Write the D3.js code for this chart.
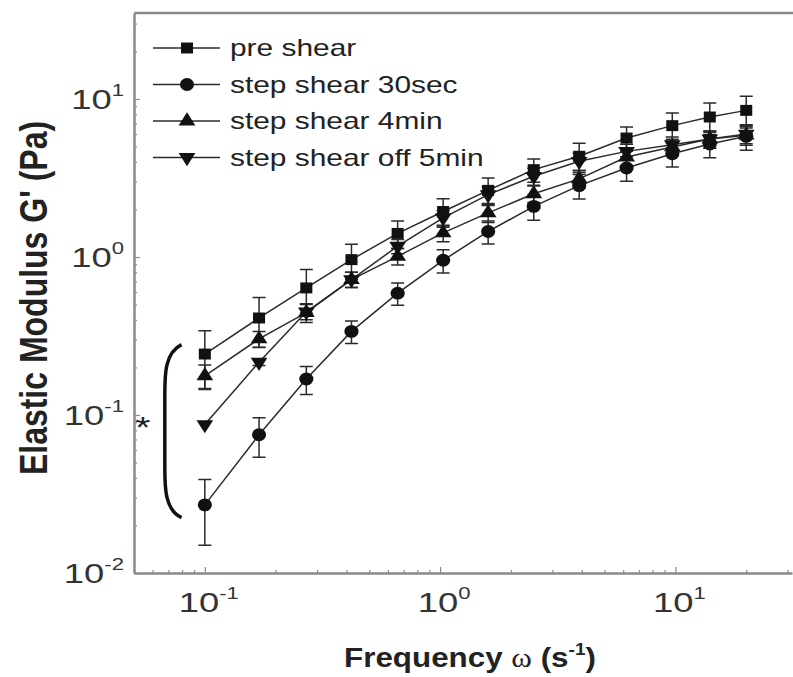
<!DOCTYPE html>
<html>
<head>
<meta charset="utf-8">
<script src="https://cdn.jsdelivr.net/npm/d3@7"></script>
<style>
  body { margin: 0; background: #fff; }
  svg { display: block; }
  text { font-family: "Liberation Sans", Arial, sans-serif; }
</style>
</head>
<body>
<svg id="chart" width="793" height="677"></svg>
<script>
// frequency (1/s)
var freq = [0.1, 0.17, 0.27, 0.42, 0.66, 1.03, 1.6, 2.5, 3.9, 6.2, 9.7, 14, 20]

// G' values (Pa) and error (+/-)
var preShear     = [0.243, 0.411, 0.637, 0.962, 1.41, 1.94, 2.64, 3.57, 4.34, 5.66, 6.78, 7.69, 8.47]
var preShearErr  = [0.098, 0.144, 0.195, 0.24, 0.28, 0.40, 0.52, 0.60, 0.91, 0.99, 1.37, 1.75, 1.93]
var step30s      = [0.027, 0.075, 0.169, 0.338, 0.59, 0.953, 1.45, 2.09, 2.83, 3.66, 4.5, 5.19, 5.8]
var step30sErr   = [0.012, 0.021, 0.034, 0.055, 0.095, 0.16, 0.24, 0.38, 0.50, 0.65, 0.79, 0.95, 1.07]
var step4min     = [0.177, 0.303, 0.445, 0.72, 1.01, 1.42, 1.90, 2.51, 3.12, 4.29, 4.97, 5.58, 5.9]
var step4minErr  = [0.03, 0.035, 0.06, 0.08, 0.12, 0.17, 0.25, 0.3, 0.4, 0.5, 0.6, 0.7, 0.8]
var off5min      = [0.087, 0.216, 0.45, 0.72, 1.17, 1.77, 2.48, 3.24, 4.03, 4.66, 5.14, 5.58, 6.0]
var off5minErr   = [0, 0.01, 0.05, 0.08, 0.12, 0.2, 0.3, 0.4, 0.5, 0.5, 0.6, 0.7, 0.8]

var seriesNames = ['pre shear', 'step shear 30sec', 'step shear 4min', 'step shear off 5min']

var xTickLabels = [[0.1,'-1'], [1,'0'], [10,'1']]
var yTickLabels = [[0.01,'-2'], [0.1,'-1'], [1,'0'], [10,'1']]

var series = [
	{name: seriesNames[0], v: preShear, e: preShearErr, sym: 'square'},
	{name: seriesNames[1], v: step30s,  e: step30sErr,  sym: 'circle'},
	{name: seriesNames[2], v: step4min, e: step4minErr, sym: 'up'},
	{name: seriesNames[3], v: off5min,  e: off5minErr,  sym: 'down'}
]

var svg = d3.select('#chart')
var SX = 1.3   // the picture is stretched sideways, text too

var pL = 134, pR = 792, pT = 13, pB = 573
var x = d3.scaleLog().domain([0.05, 31.3]).range([pL, pR])
var y = d3.scaleLog().domain([0.01, 35]).range([pB, pT])

var axisCol = '#8a8a8a'

// frame top
svg.append('line').attr('x1',pL).attr('x2',793).attr('y1',pT).attr('y2',pT)
	.style('stroke',axisCol).style('stroke-width',2.5)

function minorTicks(lo, hi){
	var out = []
	for (var d=-3; d<3; d++) for (var m=2; m<10; m++) {
		var t = m*Math.pow(10,d)
		if (t>=lo*0.999 && t<=hi*1.001) out.push(t)
	}
	return out
}

var gx = svg.append('g').attr('transform',`translate(0,${pB})`)
gx.call(d3.axisBottom(x).tickValues(minorTicks(0.05,31.3)).tickSize(-3).tickFormat('').tickSizeOuter(0))
gx.append('g').call(d3.axisBottom(x).tickValues([0.1,1,10]).tickSize(-6).tickFormat('').tickSizeOuter(0))
	.select('.domain').remove()

var gy = svg.append('g').attr('transform',`translate(${pL},0)`)
gy.call(d3.axisLeft(y).tickValues(minorTicks(0.01,35)).tickSize(-3).tickFormat('').tickSizeOuter(0))
gy.append('g').call(d3.axisLeft(y).tickValues([0.01,0.1,1,10]).tickSize(-6).tickFormat('').tickSizeOuter(0))
	.select('.domain').remove()

svg.selectAll('.domain').style('stroke',axisCol).style('stroke-width',2.5)
svg.selectAll('.tick line').style('stroke',axisCol).style('stroke-width',1.2)

function powLabel(px, py, exp, anchor){
	var t = svg.append('text')
		.attr('transform',`translate(${px},${py}) scale(${SX},1)`)
		.attr('text-anchor',anchor)
		.style('font-size','28px').style('fill','#333')
	t.append('tspan').text('10')
	t.append('tspan').text(exp).attr('dy',-13).style('font-size','17px')
}

xTickLabels.forEach(d=>powLabel(x(d[0]) + 4, 612, d[1], 'middle'))
yTickLabels.forEach(d=>powLabel(pL - 10, y(d[0]) + 10, d[1], 'end'))

// axis titles
svg.append('text')
	.attr('transform',`translate(47,298) scale(1.2,1) rotate(-90)`)
	.attr('text-anchor','middle')
	.style('font-size','32px').style('font-weight','bold').style('fill','#222')
	.text("Elastic Modulus G' (Pa)")

var xt = svg.append('text')
	.attr('transform',`translate(470,667) scale(1.12,1)`)
	.attr('text-anchor','middle')
	.style('font-size','28px').style('font-weight','bold').style('fill','#222')
xt.append('tspan').text('Frequency ')
xt.append('tspan').text('ω').style('font-family','"Liberation Serif", serif').style('font-weight','normal')
xt.append('tspan').text(' (s')
xt.append('tspan').text('-1').attr('dy',-12).style('font-size','17px')
xt.append('tspan').text(')').attr('dy',12)

// data
var lineCol = '#2b2b2b'
var line = d3.line().x((d,i)=>x(freq[i])).y(d=>y(d))

function symPath(kind){
	if (kind=='square') return d3.symbol(d3.symbolSquare, 120)()
	if (kind=='circle') return d3.symbol(d3.symbolCircle, 130)()
	return d3.symbol(d3.symbolTriangle, 100)()
}

var gLines = svg.append('g'), gErr = svg.append('g'), gMarks = svg.append('g')

series.forEach(s=>{
	gLines.append('path').datum(s.v).attr('d',line)
		.style('fill','none').style('stroke',lineCol).style('stroke-width',1.5)

	s.v.forEach((v,i)=>{
		if (!s.e[i]) return
		var cx = x(freq[i]), y1 = y(v + s.e[i]), y2 = y(Math.max(v - s.e[i], 0.005))
		gErr.append('path')
			.attr('d',`M${cx},${y1}V${y2}M${cx-6.5},${y1}H${cx+6.5}M${cx-6.5},${y2}H${cx+6.5}`)
			.style('fill','none').style('stroke',lineCol).style('stroke-width',1.5)
	})

	gMarks.selectAll(null).data(s.v).enter().append('path')
		.attr('d',symPath(s.sym))
		.attr('transform',(d,i)=>`translate(${x(freq[i])},${y(d)}) scale(1.1,1)` + (s.sym=='down'?' rotate(180)':''))
		.style('fill','#111')
})

// legend
var legend = svg.append('g')
series.forEach((s,i)=>{
	var ly = 48 + i*36.5
	legend.append('line').attr('x1',153).attr('x2',220).attr('y1',ly).attr('y2',ly)
		.style('stroke',lineCol).style('stroke-width',1.5)
	legend.append('path').attr('d',symPath(s.sym))
		.attr('transform',`translate(187,${ly}) scale(1.1,1)` + (s.sym=='down'?' rotate(180)':''))
		.style('fill','#111')
	legend.append('text')
		.attr('transform',`translate(230,${ly+8}) scale(${SX},1)`)
		.style('font-size','23px').style('fill','#222')
		.text(s.name)
})

// significance bracket at the lowest frequency
var bTop = y(0.279), bBot = y(0.0224), bL = x(0.0676), bR = x(0.0796)
svg.append('path')
	.attr('d',`M${bR},${bTop} C${bL},${bTop+8} ${bL},${bTop+30} ${bL},${bTop+50} L${bL},${bBot-50} C${bL},${bBot-30} ${bL},${bBot-8} ${bR},${bBot}`)
	.style('fill','none').style('stroke','#111').style('stroke-width',3.5)

svg.append('text')
	.attr('transform',`translate(${x(0.0545)},${y(0.073)}) scale(${SX},1)`)
	.attr('text-anchor','middle')
	.style('font-size','30px').style('fill','#222')
	.text('*')
</script>
</body>
</html>
